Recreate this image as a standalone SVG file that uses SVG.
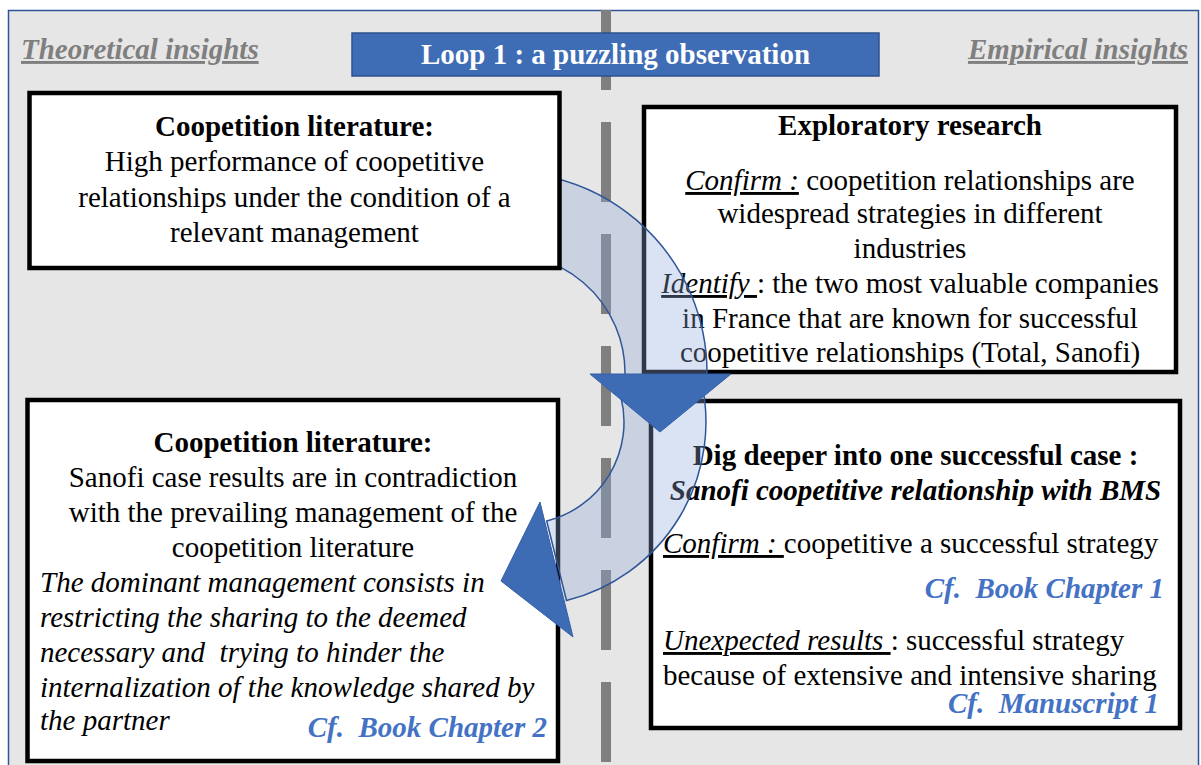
<svg xmlns="http://www.w3.org/2000/svg" width="1201" height="765" viewBox="0 0 1201 765">
<style>
.t{font-family:"Liberation Serif","Times New Roman",serif;font-size:29px;fill:#000}
.b{font-weight:bold}
.i{font-style:italic}
.c{text-anchor:middle}
.r{text-anchor:end}
.u{text-decoration:underline}
.cf{fill:#4472C4;font-weight:bold;font-style:italic}
.side{fill:#7F7F7F;font-weight:bold;font-style:italic;text-decoration:underline}
.box{fill:#FFFFFF;stroke:#000000;stroke-width:4.5}
.dash{stroke:#7F7F7F;stroke-width:10;stroke-dasharray:80 32;fill:none}
.body{fill:#8FAADC;fill-opacity:0.33;stroke:#2F5597;stroke-width:1.5}
.head{fill:#3D6BB4;stroke:#3560A8;stroke-width:1}
</style>
<rect x="0" y="0" width="1201" height="765" fill="#FFFFFF"/>
<rect x="8.5" y="10.5" width="1190" height="770" fill="#E7E6E6" stroke="#2F5597" stroke-width="1.5"/>
<line class="dash" x1="606" y1="10" x2="606" y2="765"/>
<g id="title">
<rect x="352" y="33" width="527" height="43" fill="#3E6DB5" stroke="#2F528F" stroke-width="1.5"/>
<text class="t b c" x="615.5" y="64" style="fill:#FFFFFF">Loop 1 : a puzzling observation</text>
</g>
<g id="side-labels">
<text class="t side" x="21" y="59">Theoretical insights</text>
<text class="t side r" x="1188" y="59">Empirical insights</text>
</g>
<g id="n2">
<rect class="box" x="644" y="107" width="532" height="265"/>
<text class="t b c" x="910" y="135">Exploratory research</text>
<text class="t c" x="910" y="190"><tspan class="i u">Confirm :</tspan><tspan> coopetition relationships are</tspan></text>
<text class="t c" x="910" y="223">widespread strategies in different</text>
<text class="t c" x="910" y="258">industries</text>
<text class="t c" x="910" y="293"><tspan class="i u">Identify&#160;</tspan><tspan>: the two most valuable companies</tspan></text>
<text class="t c" x="910" y="328">in France that are known for successful</text>
<text class="t c" x="910" y="362">coopetitive relationships (Total, Sanofi)</text>
</g>
<g id="n3">
<rect class="box" x="27.5" y="400" width="530.5" height="361"/>
<text class="t b c" x="293" y="452">Coopetition literature:</text>
<text class="t c" x="293" y="487">Sanofi case results are in contradiction</text>
<text class="t c" x="293" y="522">with the prevailing management of the</text>
<text class="t c" x="293" y="557">coopetition literature</text>
<text class="t i" x="40" y="592">The dominant management consists in</text>
<text class="t i" x="40" y="627">restricting the sharing to the deemed</text>
<text class="t i" x="40" y="662">necessary and&#160; trying to hinder the</text>
<text class="t i" x="40" y="697">internalization of the knowledge shared by</text>
<text class="t i" x="40" y="730">the partner</text>
<text class="t cf r" x="547" y="737">Cf.&#160; Book Chapter 2</text>
</g>
<g id="n4">
<rect class="box" x="651" y="401" width="529" height="327"/>
<text class="t b c" x="915.5" y="465">Dig deeper into one successful case :</text>
<text class="t b i c" x="915.5" y="500">Sanofi coopetitive relationship with BMS</text>
<text class="t" x="663" y="553"><tspan class="i u">Confirm :&#160;</tspan><tspan>coopetitive a successful strategy</tspan></text>
<text class="t cf r" x="1164" y="598">Cf.&#160; Book Chapter 1</text>
<text class="t" x="663" y="650"><tspan class="i u">Unexpected results&#160;</tspan><tspan>: successful strategy</tspan></text>
<text class="t" x="663" y="685">because of extensive and intensive sharing</text>
<text class="t cf r" x="1159" y="713">Cf.&#160; Manuscript 1</text>
</g>
<g id="connectors">
<path class="body" d="M471.1,175.05 A201,201 0 0,1 706.97,376.5 L624.98,375.1 A119,119 0 0,0 485.3,255.8 Z"/>
<path class="body" d="M700.5,377.5 A184,184 0 0,1 566.5,600.5 L546.7,521 A102,102 0 0,0 620.97,397.3 Z"/>
<polygon class="head" points="540,502 573,637 501,581"/>
<polygon class="head" points="590,374 731,374 660,432"/>
</g>
<g id="n1">
<rect class="box" x="29.5" y="93" width="530" height="175"/>
<text class="t b c" x="294.5" y="136">Coopetition literature:</text>
<text class="t c" x="294.5" y="171">High performance of coopetitive</text>
<text class="t c" x="294.5" y="207">relationships under the condition of a</text>
<text class="t c" x="294.5" y="242">relevant management</text>
</g>
</svg>
